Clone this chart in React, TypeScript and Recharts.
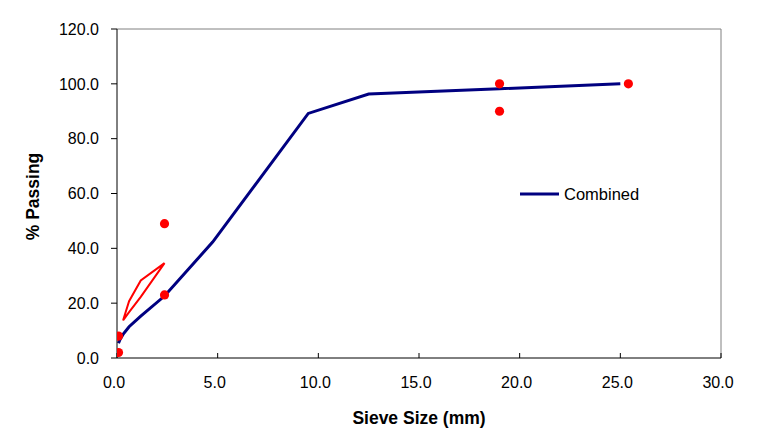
import React from 'react';
import {
  ComposedChart,
  Line,
  Scatter,
  XAxis,
  YAxis,
  ReferenceLine,
  Label,
} from 'recharts';

// Combined gradation (sieve size mm, % passing)
const combinedSizes = [0.075, 0.15, 0.3, 0.6, 1.18, 2.36, 4.75, 9.5, 12.5, 19.0, 25.0];
const combinedPassing = [5.4, 6.8, 8.6, 11.4, 15.3, 22.6, 42.3, 89.2, 96.3, 98.2, 100.0];

// Restricted zone polygon (outline in drawing order)
const zoneSizes = [0.3, 0.6, 1.18, 2.36, 1.18, 0.6, 0.3];
const zonePassing = [13.7, 20.7, 28.3, 34.6, 22.3, 16.7, 13.7];

// Control points
const controlSizes = [0.075, 0.075, 2.36, 2.36, 19.0, 19.0, 25.4];
const controlPassing = [2.0, 8.0, 23.0, 49.0, 90.0, 100.0, 100.0];

const xTicks = [0, 5, 10, 15, 20, 25, 30];
const yTicks = [0, 20, 40, 60, 80, 100, 120];

const combinedData = combinedSizes.map((x, i) => ({ x, y: combinedPassing[i] }));
const zoneData = zoneSizes.map((x, i) => ({ x, y: zonePassing[i] }));
const controlData = controlSizes.map((x, i) => ({ x, y: controlPassing[i] }));

const FONT = '"Liberation Sans", Arial, sans-serif';

const LegendBox = () => (
  <div
    style={{
      position: 'absolute',
      left: 520,
      top: 183,
      display: 'flex',
      alignItems: 'center',
      fontFamily: FONT,
      fontSize: 16.5,
      color: '#000',
      lineHeight: '22px',
    }}
  >
    <svg width={40} height={10} style={{ marginRight: 4 }}>
      <line x1={0} y1={5} x2={39} y2={5} stroke="#000080" strokeWidth={3} />
    </svg>
    <span>Combined</span>
  </div>
);

export default function App() {
  return (
    <div style={{ position: 'absolute', left: 0, top: 0, width: 762, height: 446, background: '#fff' }}>
      <ComposedChart
        width={762}
        height={446}
        margin={{ top: 29, right: 41, left: 0, bottom: 0 }}
        style={{ fontFamily: FONT }}
      >
        <XAxis
          type="number"
          dataKey="x"
          domain={[0, 30]}
          ticks={xTicks}
          allowDataOverflow
          height={88}
          tickFormatter={(v: number) => v.toFixed(1)}
          tick={{ fill: '#000', fontSize: 16, fontFamily: FONT, dx: -3 }}
          axisLine={{ stroke: '#000', strokeWidth: 1 }}
          tickLine={{ stroke: '#000' }}
          tickSize={-5}
          tickMargin={24}
        >
          <Label
            value="Sieve Size (mm)"
            position="center"
            dy={16}
            style={{ fontFamily: FONT, fontSize: 17.5, fontWeight: 'bold', fill: '#000' }}
          />
        </XAxis>
        <YAxis
          type="number"
          dataKey="y"
          domain={[0, 120]}
          ticks={yTicks}
          allowDataOverflow
          width={117}
          tickFormatter={(v: number) => v.toFixed(1)}
          tick={{ fill: '#000', fontSize: 16, fontFamily: FONT }}
          axisLine={{ stroke: '#000', strokeWidth: 1 }}
          tickLine={{ stroke: '#000' }}
          tickSize={6}
          tickMargin={12}
        >
          <Label
            value="% Passing"
            position="center"
            angle={-90}
            dx={-26}
            dy={3}
            style={{ fontFamily: FONT, fontSize: 17.5, fontWeight: 'bold', fill: '#000', textAnchor: 'middle' }}
          />
        </YAxis>
        <ReferenceLine y={120} stroke="#808080" strokeWidth={1} />
        <ReferenceLine x={30} stroke="#808080" strokeWidth={1} />
        <Line
          data={combinedData}
          dataKey="y"
          type="linear"
          stroke="#000080"
          strokeWidth={3}
          dot={false}
          activeDot={false}
          isAnimationActive={false}
          name="Combined"
        />
        <Line
          data={zoneData}
          dataKey="y"
          type="linear"
          stroke="#FF0000"
          strokeWidth={2}
          dot={false}
          activeDot={false}
          isAnimationActive={false}
          legendType="none"
        />
        <Scatter
          data={controlData}
          dataKey="y"
          fill="#FF0000"
          shape={(p: any) => <circle cx={p.cx} cy={p.cy} r={4.6} fill="#FF0000" />}
          isAnimationActive={false}
          legendType="none"
        />
      </ComposedChart>
      <LegendBox />
    </div>
  );
}
